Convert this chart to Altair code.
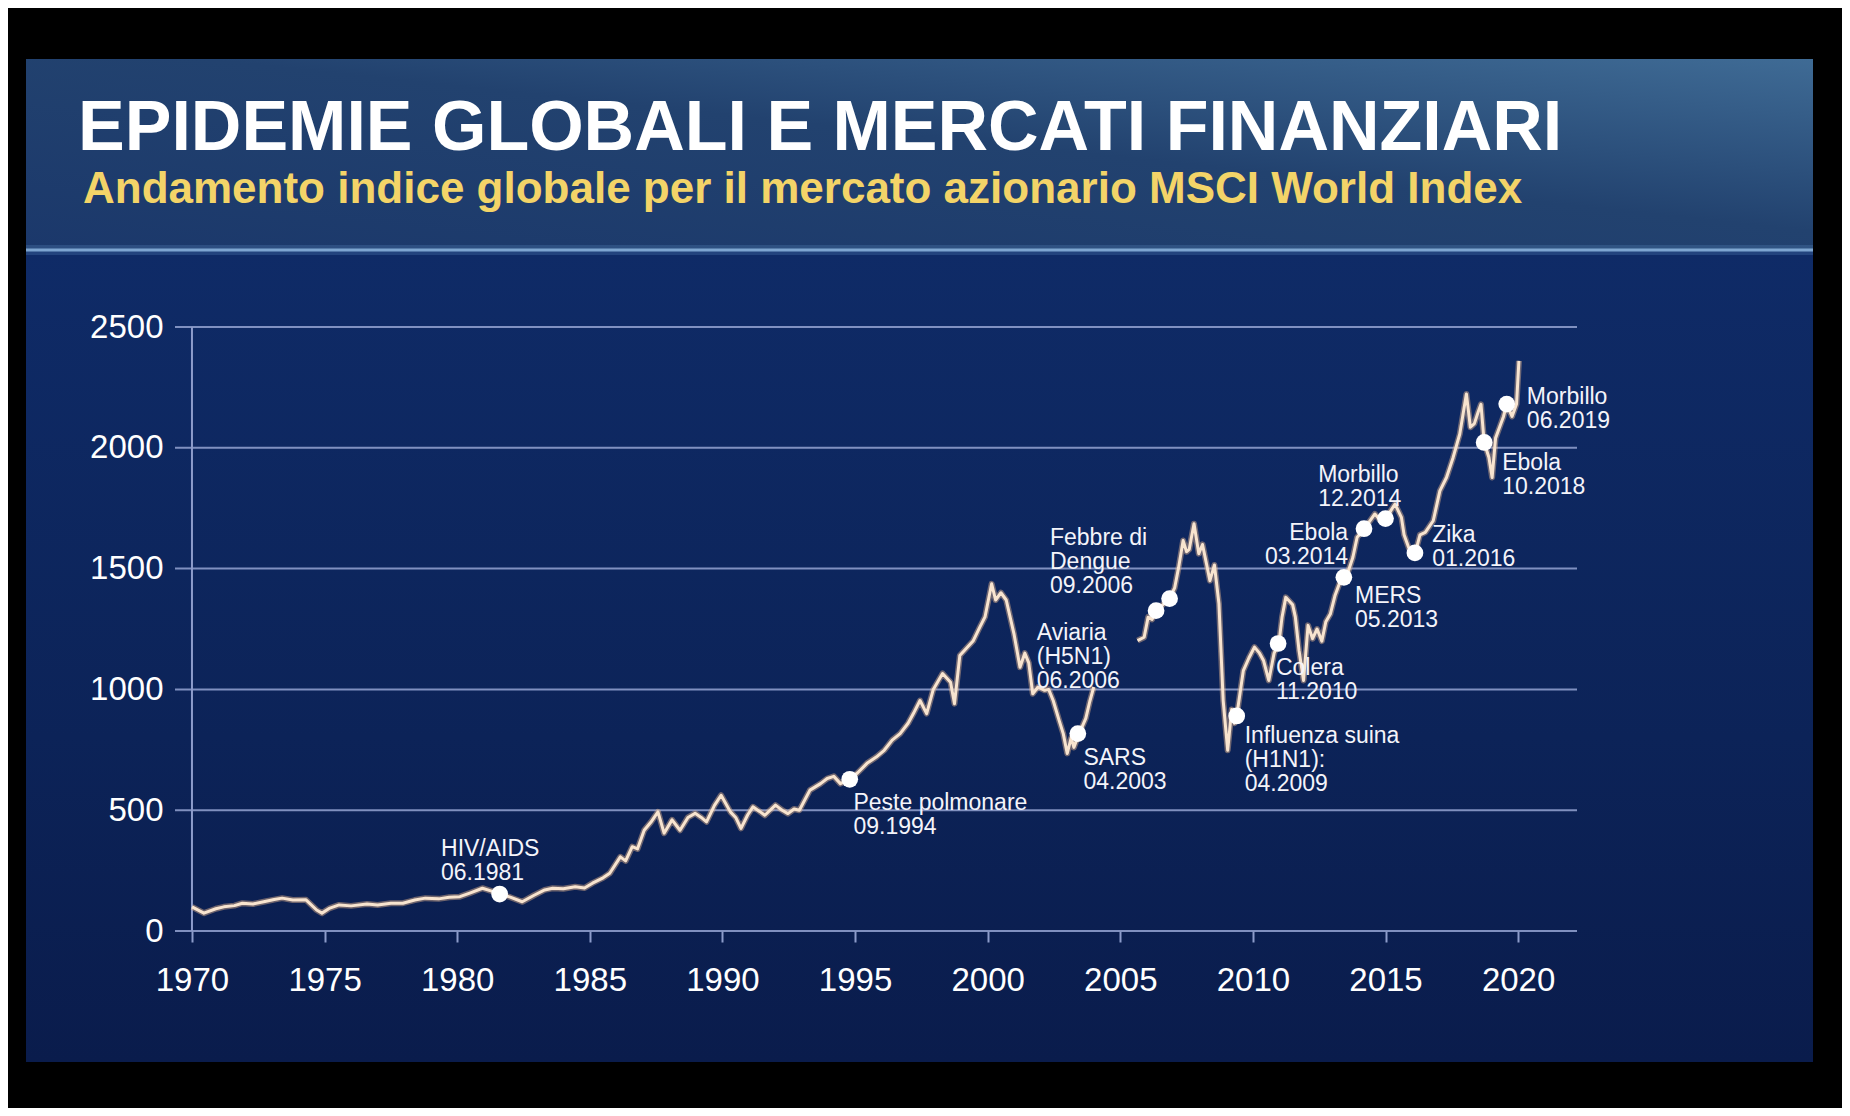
import altair as alt
import pandas as pd

TITLE = "EPIDEMIE GLOBALI E MERCATI FINANZIARI"
SUBTITLE = "Andamento indice globale per il mercato azionario MSCI World Index"

# MSCI World Index, first stretch (1970 - early 2004)
years_a = [1970.00, 1970.45, 1970.9, 1971.2, 1971.6, 1971.9, 1972.3, 1972.75, 1973.1, 1973.4,
           1973.8, 1974.3, 1974.7, 1974.9, 1975.2, 1975.55, 1976.0, 1976.6, 1977.0, 1977.5,
           1977.95, 1978.4, 1978.8, 1979.3, 1979.7, 1980.1, 1980.5, 1980.95, 1981.3, 1981.6,
           1982.0, 1982.45, 1982.9, 1983.3, 1983.6, 1984.0, 1984.45, 1984.8, 1985.1, 1985.5,
           1985.75, 1986.15, 1986.35, 1986.6, 1986.8, 1987.05, 1987.3, 1987.57, 1987.8, 1988.1,
           1988.4, 1988.7, 1988.97, 1989.2, 1989.4, 1989.7, 1989.95, 1990.3, 1990.5, 1990.7,
           1990.95, 1991.15, 1991.4, 1991.6, 1992.0, 1992.25, 1992.47, 1992.7, 1992.9, 1993.3,
           1993.7, 1993.95, 1994.2, 1994.45, 1994.8, 1995.1, 1995.45, 1995.8, 1996.1, 1996.4,
           1996.7, 1997.0, 1997.2, 1997.45, 1997.7, 1997.95, 1998.3, 1998.6, 1998.75, 1998.95,
           1999.2, 1999.45, 1999.7, 1999.9, 2000.15, 2000.3, 2000.5, 2000.7, 2000.99, 2001.22,
           2001.4, 2001.55, 2001.7, 2001.9, 2002.15, 2002.3, 2002.47, 2002.7, 2002.85, 2003.0,
           2003.15, 2003.25, 2003.45, 2003.7, 2003.85, 2004.0]
values_a = [100, 74, 92, 100, 105, 115, 112, 122, 130, 136,
            128, 129, 87, 74, 95, 108, 104, 112, 108, 115,
            115, 128, 136, 133, 140, 142, 158, 177, 165, 153,
            140, 121, 148, 170, 177, 175, 183, 178, 198, 220,
            239, 307, 290, 349, 340, 417, 450, 493, 405, 460,
            417, 470, 487, 470, 452, 520, 562, 493, 470, 425,
            480, 514, 495, 479, 521, 500, 486, 505, 500, 583,
            610, 631, 640, 610, 628, 655, 694, 720, 748, 790,
            817, 860, 900, 954, 900, 1000, 1066, 1030, 941, 1140,
            1170, 1200, 1257, 1300, 1437, 1370, 1400, 1370, 1231, 1092,
            1150, 1110, 982, 1010, 996, 1000, 954, 870, 817, 735,
            800, 760, 817, 880, 950, 1010]

# second stretch (late 2005 - 2020)
years_b = [2005.65, 2005.9, 2006.05, 2006.2, 2006.35, 2006.6, 2006.86, 2007.05, 2007.2, 2007.37,
           2007.5, 2007.6, 2007.78, 2007.96, 2008.1, 2008.25, 2008.38, 2008.55, 2008.72, 2008.88,
           2009.05, 2009.2, 2009.3, 2009.39, 2009.64, 2009.85, 2010.06, 2010.25, 2010.4, 2010.6,
           2010.8, 2010.98, 2011.1, 2011.24, 2011.5, 2011.6, 2011.74, 2011.91, 2012.08, 2012.25,
           2012.42, 2012.6, 2012.75, 2012.92, 2013.1, 2013.26, 2013.43, 2013.6, 2013.77, 2013.93,
           2014.1, 2014.3, 2014.6, 2014.8, 2015.02, 2015.2, 2015.36, 2015.6, 2015.7, 2015.87,
           2016.0, 2016.11, 2016.3, 2016.5, 2016.8, 2017.05, 2017.3, 2017.55, 2017.8, 2018.05,
           2018.2, 2018.35, 2018.5, 2018.6, 2018.72, 2018.9, 2019.02, 2019.15, 2019.3, 2019.45,
           2019.57, 2019.77, 2019.94, 2020.03]
values_b = [1202, 1216, 1299, 1290, 1326, 1350, 1376, 1420, 1505, 1616,
            1570, 1580, 1686, 1562, 1600, 1520, 1450, 1515, 1355, 954,
            748, 917, 860, 890, 1078, 1130, 1175, 1150, 1120, 1037,
            1150, 1190, 1300, 1381, 1350, 1300, 1161, 1037, 1265, 1210,
            1250, 1200, 1280, 1312, 1390, 1437, 1464, 1490, 1547, 1630,
            1650, 1680, 1726, 1700, 1707, 1740, 1767, 1712, 1640, 1588,
            1560, 1560, 1640, 1650, 1698, 1822, 1877, 1960, 2057, 2223,
            2085, 2100, 2150, 2180, 2022, 1960, 1877, 2040, 2085, 2130,
            2181, 2130, 2181, 2360]

# epidemic events (dots)
event_years = [1981.6, 1994.8, 2003.4, 2006.35, 2006.86, 2009.39, 2010.95, 2013.43, 2014.19,
               2015.0, 2016.11, 2018.72, 2019.57]
event_values = [153, 628, 817, 1326, 1376, 890, 1190, 1464, 1665, 1707, 1565, 2022, 2181]

# annotation labels
label_texts = ["HIV/AIDS\n06.1981", "Peste polmonare\n09.1994", "SARS\n04.2003",
               "Aviaria\n(H5N1)\n06.2006", "Febbre di\nDengue\n09.2006",
               "Influenza suina\n(H1N1):\n04.2009", "Colera\n11.2010", "MERS\n05.2013",
               "Ebola\n03.2014", "Morbillo\n12.2014", "Zika\n01.2016", "Ebola\n10.2018",
               "Morbillo\n06.2019"]
label_years = [1979.39, 1994.94, 2003.61, 2001.85, 2002.35, 2009.69, 2010.87, 2013.85,
               2013.59, 2012.46, 2016.76, 2019.40, 2020.33]
label_values = [384, 577, 763, 1279, 1672, 852, 1135, 1431, 1693, 1934, 1686, 1982, 2257]
label_align = ["left", "left", "left", "left", "left", "left", "left", "left",
               "right", "left", "left", "left", "left"]

y_ticks = [0, 500, 1000, 1500, 2000, 2500]
x_ticks = [1970, 1975, 1980, 1985, 1990, 1995, 2000, 2005, 2010, 2015, 2020]

W, H = 1402, 604
XDOM = [1969.36, 2022.22]
GRID = "#8d9ccb"
FONT = "Liberation Sans"

line_df = pd.DataFrame({
    "year": years_a + years_b,
    "value": values_a + values_b,
    "seg": ["a"] * len(years_a) + ["b"] * len(years_b),
})
ev_df = pd.DataFrame({"year": event_years, "value": event_values})
lab_df = pd.DataFrame({"year": label_years, "value": label_values,
                       "text": label_texts, "align": label_align})
grid_df = pd.DataFrame({"v": y_ticks})
one = pd.DataFrame({"a": [0]})

xscale = alt.Scale(domain=XDOM, nice=False, zero=False)
yscale = alt.Scale(domain=[0, 2500], nice=False, zero=False)
xaxis = alt.Axis(values=x_ticks, format="d", title=None, grid=False, domain=False,
                 ticks=True, tickSize=11, tickWidth=2, tickColor=GRID,
                 labelFontSize=33, labelColor="#ffffff", labelFont=FONT,
                 labelPadding=22, labelFlush=False, labelOverlap=False, zindex=1)
yaxis = alt.Axis(values=y_ticks, format="d", title=None, grid=False, domain=False, ticks=False,
                 labelFontSize=33, labelColor="#ffffff", labelFont=FONT,
                 labelPadding=12, labelOverlap=False, zindex=1)
X = alt.X("year:Q", scale=xscale, axis=xaxis)
Y = alt.Y("value:Q", scale=yscale, axis=yaxis)

# decorative background panel
panel = alt.Chart(one).mark_rect(fill="#0b2056").encode(
    x=alt.value(-149), x2=alt.value(1638), y=alt.value(-268), y2=alt.value(735))
body = alt.Chart(one).mark_rect(fill=alt.Gradient(
    gradient="linear", x1=0, y1=0, x2=0, y2=1,
    stops=[alt.GradientStop(color="#0f2b67", offset=0),
           alt.GradientStop(color="#0c2358", offset=0.6),
           alt.GradientStop(color="#0a1c4c", offset=1)])).encode(
    x=alt.value(-149), x2=alt.value(1638), y=alt.value(-77), y2=alt.value(735))
header = alt.Chart(one).mark_rect(fill=alt.Gradient(
    gradient="linear", x1=0, y1=1, x2=1, y2=0,
    stops=[alt.GradientStop(color="#1b386b", offset=0),
           alt.GradientStop(color="#22426f", offset=0.55),
           alt.GradientStop(color="#3f6b95", offset=1)])).encode(
    x=alt.value(-149), x2=alt.value(1638), y=alt.value(-268), y2=alt.value(-77))
glow = alt.Chart(one).mark_rule(stroke="#5f8fc4", strokeWidth=10, opacity=0.25).encode(
    x=alt.value(-149), x2=alt.value(1638), y=alt.value(-77))
sep = alt.Chart(one).mark_rule(stroke="#8db6df", strokeWidth=3, opacity=0.85).encode(
    x=alt.value(-149), x2=alt.value(1638), y=alt.value(-77))

title = alt.Chart(pd.DataFrame({"t": [TITLE]})).mark_text(
    font=FONT, fontSize=70, fontWeight="bold", color="#ffffff", align="left",
    baseline="alphabetic").encode(text="t:N", x=alt.value(-97), y=alt.value(-177))
subtitle = alt.Chart(pd.DataFrame({"t": [SUBTITLE]})).mark_text(
    font=FONT, fontSize=44, fontWeight="bold", color="#f3d468", align="left",
    baseline="alphabetic").encode(text="t:N", x=alt.value(-92), y=alt.value(-124))

gridlines = alt.Chart(grid_df).mark_rule(stroke=GRID, strokeWidth=2, opacity=0.9).encode(
    y=alt.Y("v:Q", scale=yscale, axis=yaxis))
vaxis = alt.Chart(pd.DataFrame({"year": [1970], "value": [0], "v2": [2500]})).mark_rule(
    stroke=GRID, strokeWidth=2).encode(x=X, y=Y, y2="v2:Q")

line_glow = alt.Chart(line_df).mark_line(stroke="#e9b78e", strokeWidth=6, opacity=0.45,
                                         strokeJoin="round").encode(x=X, y=Y, detail="seg:N")
line = alt.Chart(line_df).mark_line(stroke="#f8e4cf", strokeWidth=3,
                                    strokeJoin="round").encode(x=X, y=Y, detail="seg:N")
dots = alt.Chart(ev_df).mark_circle(color="#ffffff", opacity=1, size=280).encode(x=X, y=Y)

labels_left = alt.Chart(lab_df).transform_filter(alt.datum.align == "left").mark_text(
    font=FONT, fontSize=23, color="#f4f4fa", align="left", baseline="top",
    lineBreak="\n", lineHeight=24).encode(x=X, y=Y, text="text:N")
labels_right = alt.Chart(lab_df).transform_filter(alt.datum.align == "right").mark_text(
    font=FONT, fontSize=23, color="#f4f4fa", align="right", baseline="top",
    lineBreak="\n", lineHeight=24).encode(x=X, y=Y, text="text:N")

chart = alt.layer(
    panel, header, body, glow, sep, title, subtitle,
    gridlines, vaxis, line_glow, line, dots, labels_left, labels_right
).properties(
    width=W, height=H,
    padding={"left": 167, "top": 319, "right": 265, "bottom": 177},
    autosize=alt.AutoSizeParams(type="none"),
).configure(background="#000000").configure_view(stroke=None)

chart.save("out.html", embed_options={"renderer": "svg", "actions": False})
